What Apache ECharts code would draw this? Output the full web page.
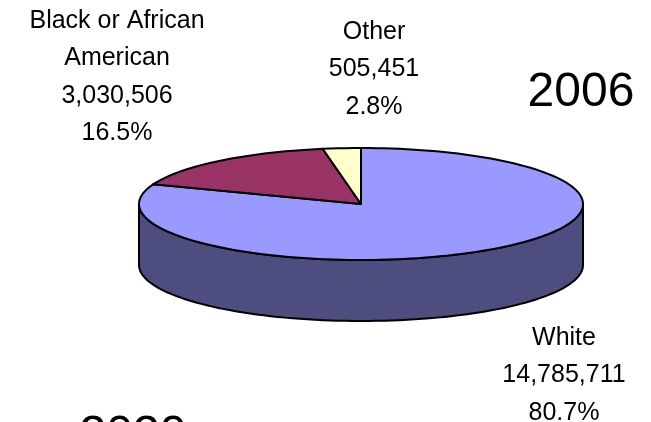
<!DOCTYPE html>
<html>
<head>
<meta charset="utf-8">
<script src="https://cdn.jsdelivr.net/npm/echarts@6/dist/echarts.min.js"></script>
<style>
  html, body { margin: 0; padding: 0; background: #fff; }
  #main { width: 651px; height: 422px; }
</style>
</head>
<body>
<div id="main"></div>
<script>
// data
const categories = ['White', 'Black or African\nAmerican', 'Other'];
const populations = [14785711, 3030506, 505451];
const years = ['2006', '2020'];

// look
const topColors = ['#9999FF', '#993366', '#FFFFCC'];
const sideColors = ['#4D4D80', '#4D1A33', '#80806A'];
const labelPos = [[564, 338], [117, 21], [374, 32]];
const FONT = '"Liberation Sans", Arial, sans-serif';

// ellipse of the tilted pie
const CX = 361, CY = 204, RX = 222, RY = 56, DEPTH = 61;

const total = populations.reduce((s, v) => s + v, 0);
// start angles, clockwise from 12 o'clock (degrees, math convention)
const starts = [];
let acc = 90;
populations.forEach(v => { starts.push(acc); acc -= v / total * 360; });

function pt(a, dy) {
  const r = a * Math.PI / 180;
  return [CX + RX * Math.cos(r), CY - RY * Math.sin(r) + dy];
}

function arc(from, to, dy) {
  const n = Math.max(2, Math.ceil(Math.abs(to - from) / 2));
  const out = [];
  for (let j = 0; j <= n; j++) out.push(pt(from + (to - from) * j / n, dy));
  return out;
}

function fmt(v) {
  return v.toString().replace(/\B(?=(\d{3})+(?!\d))/g, ',');
}

const chart = echarts.init(document.getElementById('main'), null, { renderer: 'canvas' });

const seriesData = populations.map(v => [v]);

const graphics = categories.map((name, i) => ({
  type: 'text',
  x: labelPos[i][0],
  y: labelPos[i][1] - 18.75,
  style: {
    text: name + '\n' + fmt(populations[i]) + '\n' + (populations[i] / total * 100).toFixed(1) + '%',
    font: '25px ' + FONT,
    fill: '#000',
    align: 'center',
    verticalAlign: 'top',
    lineHeight: 37.5
  }
}));
graphics.push({
  type: 'text', x: 581, y: 93,
  style: { text: years[0], font: '48px ' + FONT, fill: '#000', align: 'center', verticalAlign: 'middle' }
});
graphics.push({
  type: 'text', x: 133, y: 436,
  style: { text: years[1], font: '48px ' + FONT, fill: '#000', align: 'center', verticalAlign: 'middle' }
});

chart.setOption({
  backgroundColor: '#ffffff',
  animation: false,
  graphic: graphics,
  series: [
    {
      // side walls
      type: 'custom',
      coordinateSystem: 'none',
      z: 1,
      data: seriesData,
      renderItem: function (params, api) {
        const i = params.dataIndex;
        const a0 = starts[i];
        const a1 = a0 - api.value(0) / total * 360;
        const children = [];
        for (let k = -2; k <= 1; k++) {
          const lo = Math.max(a1, -180 + 360 * k);
          const hi = Math.min(a0, 360 * k);
          if (hi > lo) {
            const pts = arc(hi, lo, 0).concat(arc(lo, hi, DEPTH));
            children.push({
              type: 'polygon',
              shape: { points: pts },
              style: { fill: sideColors[i], stroke: '#000', lineWidth: 2, lineJoin: 'round' }
            });
          }
        }
        return { type: 'group', children: children };
      }
    },
    {
      // top faces
      type: 'custom',
      coordinateSystem: 'none',
      z: 2,
      data: seriesData,
      renderItem: function (params, api) {
        const i = params.dataIndex;
        const a0 = starts[i];
        const a1 = a0 - api.value(0) / total * 360;
        const pts = [[CX, CY]].concat(arc(a0, a1, 0));
        return {
          type: 'polygon',
          shape: { points: pts },
          style: { fill: topColors[i], stroke: '#000', lineWidth: 2, lineJoin: 'round' }
        };
      }
    }
  ]
});
</script>
</body>
</html>
